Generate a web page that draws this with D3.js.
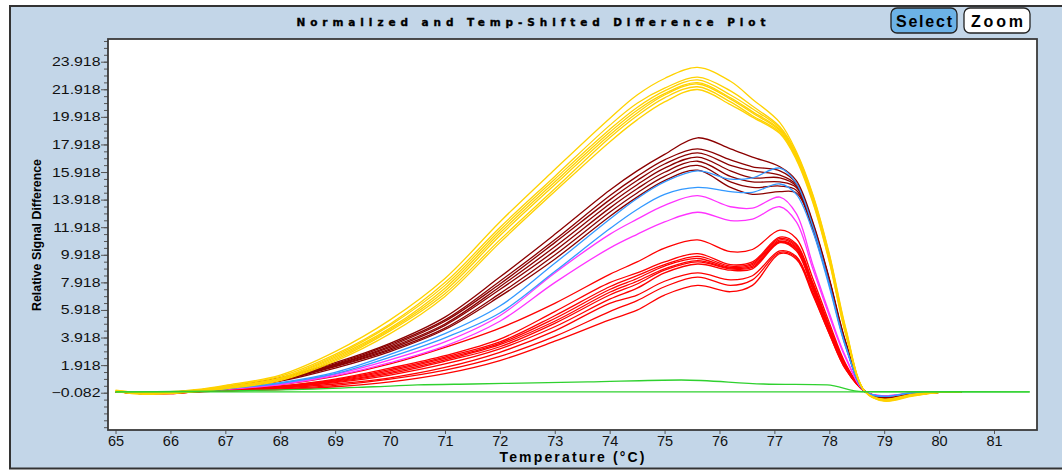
<!DOCTYPE html>
<html>
<head>
<meta charset="utf-8">
<script src="https://cdn.jsdelivr.net/npm/d3@7"></script>
<style>
  body { margin: 0; background: #fff; }
  text { font-family: "Liberation Sans", Arial, sans-serif; }
</style>
</head>
<body>
<div id="chart"></div>
<script>
// temperatures shared by the melt curves (°C)
const temps = [65, 65.5, 66, 66.5, 67, 68, 69, 70, 71, 72, 73, 74, 74.5, 75, 75.6, 76.2, 76.6, 77.1, 77.4, 77.7, 78, 78.3, 78.65, 79, 79.5, 80, 80.4];

// yellow group
const yellowSeries = [
  [0.05, -0.05, 0, 0.15, 0.45, 1.2, 2.9, 5.2, 8.2, 12.3, 16.1, 19.8, 21.5, 22.7, 23.5, 22.5, 21.2, 19.5, 17.4, 14.3, 10.0, 4.6, 0, -0.7, -0.35, -0.05, -0.05],
  [0.1, -0.1, -0.05, 0.1, 0.4, 1.1, 2.7, 4.9, 7.9, 11.9, 15.6, 19.3, 20.9, 22.0, 22.8, 21.8, 20.7, 19.2, 17.3, 14.2, 9.9, 4.5, 0, -0.68, -0.3, -0.05, -0.05],
  [0, -0.15, -0.1, 0.1, 0.35, 1.0, 2.6, 4.8, 7.7, 11.7, 15.4, 19.0, 20.6, 21.8, 22.6, 21.5, 20.5, 19.1, 17.2, 14.1, 9.8, 4.4, 0, -0.65, -0.3, -0.05, -0.05],
  [0.05, -0.1, -0.1, 0.05, 0.3, 0.95, 2.5, 4.6, 7.5, 11.5, 15.2, 18.8, 20.4, 21.6, 22.4, 21.3, 20.3, 19.0, 17.1, 14.0, 9.7, 4.4, 0, -0.62, -0.28, -0.05, -0.05],
  [0, -0.2, -0.15, 0.05, 0.3, 0.9, 2.4, 4.5, 7.3, 11.3, 15.0, 18.6, 20.2, 21.5, 22.3, 21.2, 20.2, 18.9, 17.0, 13.9, 9.6, 4.3, 0, -0.6, -0.25, -0.05, -0.05],
  [0, -0.15, -0.1, 0, 0.25, 0.85, 2.3, 4.4, 7.1, 11.0, 14.7, 18.4, 20.0, 21.3, 22.1, 21.0, 20.0, 18.8, 16.9, 13.8, 9.5, 4.2, 0, -0.58, -0.25, -0.05, -0.05],
  [0.05, -0.1, -0.1, 0, 0.2, 0.8, 2.2, 4.2, 6.9, 10.8, 14.5, 18.1, 19.7, 21.0, 21.9, 20.8, 19.9, 18.7, 16.8, 13.7, 9.4, 4.1, 0, -0.55, -0.2, -0.05, -0.05]
];

// dark red group
const darkRedSeries = [
  [0, -0.1, -0.05, 0.1, 0.35, 1.0, 2.1, 3.5, 5.4, 8.3, 11.4, 14.6, 16.0, 17.2, 18.4, 17.6, 17.0, 16.3, 15.3, 12.3, 8.2, 3.6, 0, -0.55, -0.25, -0.05, -0.05],
  [0, -0.1, -0.05, 0.1, 0.3, 0.95, 2.0, 3.4, 5.2, 8.0, 11.0, 14.2, 15.6, 16.8, 17.6, 16.8, 16.3, 16.0, 15.1, 12.2, 8.1, 3.5, 0, -0.55, -0.25, -0.05, -0.05],
  [0, -0.15, -0.1, 0.05, 0.3, 0.9, 1.95, 3.3, 5.1, 7.8, 10.8, 13.9, 15.3, 16.5, 17.3, 16.4, 16.0, 15.7, 15.0, 12.1, 8.1, 3.5, 0, -0.5, -0.25, -0.05, -0.05],
  [0, -0.1, -0.1, 0.05, 0.25, 0.85, 1.9, 3.2, 4.9, 7.6, 10.5, 13.6, 15.0, 16.2, 17.0, 16.0, 15.5, 15.5, 14.9, 12.0, 8.0, 3.4, 0, -0.5, -0.2, -0.05, -0.05],
  [0, -0.15, -0.1, 0.05, 0.25, 0.8, 1.85, 3.1, 4.8, 7.4, 10.2, 13.3, 14.7, 15.9, 16.7, 15.6, 15.2, 15.2, 14.8, 11.9, 8.0, 3.4, 0, -0.5, -0.2, -0.05, -0.05],
  [0, -0.1, -0.1, 0, 0.2, 0.8, 1.8, 3.0, 4.6, 7.1, 9.9, 13.0, 14.4, 15.6, 16.4, 15.2, 14.8, 14.9, 14.6, 11.8, 7.9, 3.3, 0, -0.45, -0.2, -0.05, -0.05],
  [0, -0.15, -0.1, 0, 0.2, 0.75, 1.7, 2.9, 4.5, 6.9, 9.6, 12.7, 14.1, 15.3, 16.05, 14.8, 14.3, 14.5, 14.4, 11.7, 7.8, 3.3, 0, -0.45, -0.2, -0.05, -0.05]
];

// blue group
const blueSeries = [
  [0, -0.1, -0.1, 0.05, 0.2, 0.65, 1.4, 2.7, 4.2, 6.2, 9.3, 12.5, 14.0, 15.2, 16.0, 15.4, 15.5, 16.2, 15.1, 12.0, 7.8, 3.3, 0, -0.35, -0.1, -0.05, -0.05],
  [0, -0.1, -0.1, 0.05, 0.2, 0.6, 1.3, 2.5, 3.9, 5.7, 8.7, 11.8, 13.2, 14.3, 14.8, 14.5, 14.45, 15.05, 14.3, 11.6, 7.6, 3.2, 0, -0.35, -0.1, -0.05, -0.05]
];

// magenta group
const magentaSeries = [
  [0, -0.1, -0.1, 0.05, 0.2, 0.55, 1.25, 2.3, 3.6, 5.5, 8.6, 11.4, 12.5, 13.5, 14.2, 13.4, 13.3, 14.1, 12.9, 9.2, 5.7, 2.5, 0, -0.3, -0.1, -0.05, -0.05],
  [0, -0.1, -0.1, 0.05, 0.15, 0.5, 1.15, 2.1, 3.3, 5.1, 7.9, 10.4, 11.4, 12.3, 13.0, 12.4, 12.5, 13.4, 12.3, 8.9, 5.5, 2.4, 0, -0.3, -0.1, -0.05, -0.05]
];

// red group
const redSeries = [
  [0, -0.1, -0.05, 0.1, 0.2, 0.5, 1.1, 2.0, 3.2, 4.6, 6.4, 8.5, 9.4, 10.4, 11.0, 10.15, 10.3, 11.7, 11.1, 8.2, 5.0, 2.0, 0, -0.45, -0.15, -0.05, -0.05],
  [0, -0.15, -0.1, 0.05, 0.15, 0.4, 0.9, 1.7, 2.6, 3.8, 5.8, 7.9, 8.6, 9.4, 10.0, 9.2, 9.4, 11.2, 10.7, 7.9, 4.8, 1.9, 0, -0.42, -0.15, -0.05, -0.05],
  [0, -0.1, -0.1, 0.05, 0.15, 0.4, 0.85, 1.6, 2.5, 3.6, 5.5, 7.6, 8.4, 9.2, 9.8, 9.1, 9.3, 11.1, 10.6, 7.8, 4.7, 1.9, 0, -0.4, -0.15, -0.05, -0.05],
  [0, -0.15, -0.15, 0, 0.1, 0.35, 0.8, 1.5, 2.4, 3.5, 5.3, 7.4, 8.2, 9.1, 9.65, 9.0, 9.2, 11.0, 10.5, 7.7, 4.6, 1.8, 0, -0.4, -0.15, -0.05, -0.05],
  [0, -0.1, -0.1, 0, 0.1, 0.35, 0.75, 1.4, 2.3, 3.4, 5.1, 7.2, 8.0, 8.9, 9.5, 8.95, 9.1, 10.9, 10.4, 7.6, 4.6, 1.8, 0, -0.4, -0.15, -0.05, -0.05],
  [0, -0.15, -0.1, 0, 0.1, 0.3, 0.7, 1.3, 2.2, 3.25, 4.95, 7.0, 7.8, 8.8, 9.4, 8.9, 9.0, 10.85, 10.3, 7.5, 4.5, 1.8, 0, -0.38, -0.15, -0.05, -0.05],
  [0, -0.1, -0.15, 0, 0.05, 0.3, 0.65, 1.2, 2.0, 3.1, 4.7, 6.7, 7.5, 8.6, 9.25, 8.8, 8.9, 10.8, 10.2, 7.4, 4.4, 1.7, 0, -0.38, -0.15, -0.05, -0.05],
  [0, -0.15, -0.1, 0, 0.05, 0.25, 0.55, 1.0, 1.75, 2.85, 4.4, 6.4, 7.0, 8.0, 8.6, 8.1, 8.4, 10.2, 9.8, 7.2, 4.3, 1.7, 0, -0.36, -0.12, -0.05, -0.05],
  [0, -0.1, -0.1, 0, 0.05, 0.2, 0.45, 0.9, 1.55, 2.55, 4.0, 5.8, 6.6, 7.6, 8.3, 7.7, 8.1, 10.1, 9.7, 7.1, 4.2, 1.6, 0, -0.35, -0.12, -0.05, -0.05],
  [0, -0.1, -0.1, 0, 0.05, 0.15, 0.35, 0.7, 1.3, 2.25, 3.65, 5.2, 5.9, 7.0, 7.7, 7.24, 7.7, 10.0, 9.6, 7.0, 4.2, 1.6, 0, -0.35, -0.12, -0.05, -0.05]
];

// green curves have their own temperature grid
const greenTemps = [65, 68.4, 69.7, 70.5, 71.5, 73.6, 75.3, 76.8, 77.96, 78.6, 81.65];
const greenBump = [-0.02, 0.16, 0.35, 0.48, 0.55, 0.7, 0.84, 0.55, 0.48, 0.0, -0.02];
const greenBase = [-0.02, -0.02, -0.02, -0.02, -0.02, -0.02, -0.02, -0.02, -0.02, -0.02, -0.02];

const xTickValues = [65, 66, 67, 68, 69, 70, 71, 72, 73, 74, 75, 76, 77, 78, 79, 80, 81];
const yTickValues = [-0.082, 1.918, 3.918, 5.918, 7.918, 9.918, 11.918, 13.918, 15.918, 17.918, 19.918, 21.918, 23.918];

const W = 1062, H = 470;
const plot = { left: 108, top: 39, right: 1037, bottom: 430 };

const svg = d3.select("#chart").append("svg")
    .attr("width", W)
    .attr("height", H);

// window background
svg.append("rect")
    .attr("x", 10).attr("y", 6)
    .attr("width", 1070).attr("height", 462.5)
    .attr("fill", "#c3d6e8")
    .attr("stroke", "#333")
    .attr("stroke-width", 2);

// title
svg.append("text")
    .attr("x", 531).attr("y", 26)
    .attr("text-anchor", "middle")
    .attr("textLength", 469)
    .attr("lengthAdjust", "spacing")
    .style("font-family", "'DejaVu Sans', sans-serif")
    .style("font-size", "10.5px")
    .style("font-weight", "bold")
    .attr("stroke", "#000")
    .attr("stroke-width", 0.35)
    .text("Normalized and Temp-Shifted Difference Plot");

// buttons
const buttons = [
  { label: "Select", x: 891, fill: "#6cb2e6", len: 56 },
  { label: "Zoom", x: 964, fill: "#ffffff", len: 52 }
];
const btn = svg.selectAll("g.btn").data(buttons).join("g").attr("class", "btn");
btn.append("rect")
    .attr("x", d => d.x).attr("y", 8)
    .attr("width", 66).attr("height", 25)
    .attr("rx", 6)
    .attr("fill", d => d.fill)
    .attr("stroke", "#222")
    .attr("stroke-width", 1.3);
btn.append("text")
    .attr("x", d => d.x + 33).attr("y", 26.5)
    .attr("text-anchor", "middle")
    .attr("textLength", d => d.len)
    .attr("lengthAdjust", "spacing")
    .style("font-size", "16px")
    .style("font-weight", "bold")
    .text(d => d.label);

// plot area
svg.append("rect")
    .attr("x", plot.left).attr("y", plot.top)
    .attr("width", plot.right - plot.left)
    .attr("height", plot.bottom - plot.top)
    .attr("fill", "#fff");

const x = d3.scaleLinear().domain([64.863, 81.783]).range([plot.left, plot.right]);
const y = d3.scaleLinear().domain([-2.786, 25.563]).range([plot.bottom, plot.top]);

svg.append("clipPath").attr("id", "clip")
  .append("rect")
    .attr("x", plot.left).attr("y", plot.top)
    .attr("width", plot.right - plot.left)
    .attr("height", plot.bottom - plot.top);

const lines = svg.append("g").attr("clip-path", "url(#clip)");

const line = d3.line()
    .x((d, i) => x(temps[i]))
    .y(d => y(d))
    .curve(d3.curveCatmullRom.alpha(0.5));

const greenLine = d3.line()
    .x((d, i) => x(greenTemps[i]))
    .y(d => y(d))
    .curve(d3.curveMonotoneX);

function drawGroup(series, color) {
  lines.append("g").selectAll("path")
    .data(series)
    .join("path")
    .attr("d", line)
    .attr("fill", "none")
    .attr("stroke", color)
    .attr("stroke-width", 1.3);
}

drawGroup(redSeries, "#ff0000");
drawGroup(magentaSeries, "#ff33ff");
drawGroup(darkRedSeries, "#8b0000");
drawGroup(blueSeries, "#3399ff");
drawGroup(yellowSeries, "#ffd200");

lines.append("g").selectAll("path")
    .data([greenBase, greenBump])
    .join("path")
    .attr("d", greenLine)
    .attr("fill", "none")
    .attr("stroke", "#2fd12f")
    .attr("stroke-width", 1.3);

// y axis: minor ticks
svg.append("g")
    .attr("transform", `translate(${plot.left},0)`)
    .call(d3.axisLeft(y).tickValues(d3.range(-2.582, 25.5, 0.5)).tickSize(4).tickFormat(""))
    .call(g => g.select(".domain").remove())
    .call(g => g.selectAll("line").attr("stroke", "#555"));

// y axis: major ticks
svg.append("g")
    .attr("transform", `translate(${plot.left},0)`)
    .call(d3.axisLeft(y).tickValues(yTickValues).tickSize(7).tickFormat(d3.format(".3f")))
    .call(g => g.select(".domain").remove())
    .call(g => g.selectAll("line").attr("stroke", "#555"))
    .call(g => g.selectAll("text")
        .attr("x", -7.5 / 1.27)
        .attr("transform", "scale(1.27,1)")
        .attr("fill", "#111")
        .style("font-size", "12.5px")
        .style("font-family", "'Liberation Sans', Arial, sans-serif"));

// x axis
svg.append("g")
    .attr("transform", `translate(0,${plot.bottom})`)
    .call(d3.axisBottom(x).tickValues(xTickValues).tickSize(4).tickPadding(2).tickFormat(d3.format("d")))
    .call(g => g.select(".domain").remove())
    .call(g => g.selectAll("line").attr("stroke", "#555"))
    .call(g => g.selectAll("text")
        .attr("fill", "#111")
        .style("font-size", "14.5px")
        .style("font-family", "'Liberation Sans', Arial, sans-serif"));

// plot frame
svg.append("rect")
    .attr("x", plot.left).attr("y", plot.top)
    .attr("width", plot.right - plot.left)
    .attr("height", plot.bottom - plot.top)
    .attr("fill", "none")
    .attr("stroke", "#3a3a3a")
    .attr("stroke-width", 1.8);

// axis titles
svg.append("text")
    .attr("transform", "translate(41,235) rotate(-90)")
    .attr("text-anchor", "middle")
    .attr("textLength", 152)
    .attr("lengthAdjust", "spacingAndGlyphs")
    .style("font-size", "13px")
    .style("font-weight", "bold")
    .text("Relative Signal Difference");

svg.append("text")
    .attr("x", 572).attr("y", 462)
    .attr("text-anchor", "middle")
    .attr("textLength", 145)
    .attr("lengthAdjust", "spacing")
    .style("font-size", "14px")
    .style("font-weight", "bold")
    .text("Temperature (°C)");
</script>
</body>
</html>
